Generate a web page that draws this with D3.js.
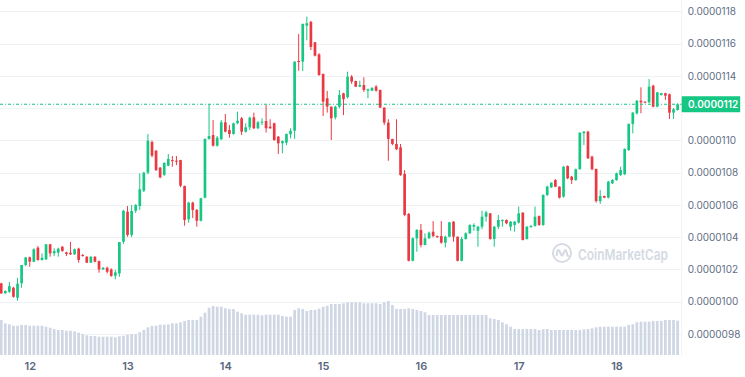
<!DOCTYPE html>
<html>
<head>
<meta charset="utf-8">
<script src="https://cdn.jsdelivr.net/npm/d3@7"></script>
<style>
  html, body { margin: 0; padding: 0; background: #fff; }
  svg { display: block; font-family: Inter, "Noto Sans", sans-serif; }
</style>
</head>
<body>
<div id="chart"></div>
<script>
// hourly candles, prices in units of 1e-7
const UNIT = 1e-7;
const startTime = new Date(2024, 0, 11, 17);

const open = [
  101.14, 100.52, 100.62, 100.87, 100.25, 101.14, 102.28, 102.75, 102.48, 103.35,
  102.59, 102.63, 103.56, 103.00, 103.04, 103.41, 103.06, 103.04, 102.94, 103.29,
  102.90, 102.79, 102.42, 102.79, 102.52, 102.00, 102.11, 102.00, 101.61, 101.76,
  103.72, 105.58, 104.14, 105.64, 105.93, 106.88, 108.00, 109.90, 109.36, 108.31,
  107.86, 108.43, 108.78, 108.74, 108.78, 107.17, 105.11, 106.14, 105.69, 105.02,
  106.45, 110.09, 110.33, 109.67, 110.07, 111.12, 110.64, 110.40, 111.06, 111.37,
  110.54, 110.81, 111.43, 110.75, 111.10, 111.20, 110.85, 111.06, 110.23, 109.82,
  109.86, 110.38, 110.60, 114.92, 114.88, 117.11, 117.35, 116.08, 115.33, 114.11,
  112.61, 112.09, 111.43, 112.09, 112.92, 112.67, 113.95, 113.68, 113.33, 113.43,
  113.08, 113.08, 113.33, 113.12, 112.03, 111.10, 110.09, 109.78, 109.57, 107.92,
  105.44, 102.54, 103.93, 104.45, 103.52, 103.93, 104.34, 104.07, 104.07, 103.66,
  104.03, 104.96, 104.03, 102.54, 103.89, 104.24, 104.65, 104.40, 104.65, 105.27,
  105.48, 103.89, 104.65, 105.00, 105.07, 104.65, 104.76, 104.90, 105.52, 103.89,
  104.62, 104.70, 105.31, 104.76, 106.62, 107.09, 107.54, 107.13, 106.51, 108.41,
  107.75, 107.54, 108.21, 110.44, 110.54, 108.99, 108.23, 106.24, 106.55, 106.45,
  107.34, 107.54, 107.85, 107.90, 109.40, 111.02, 111.68, 112.46, 112.40, 112.36,
  113.39, 112.09, 112.81, 112.92, 112.86, 111.72, 111.88
];
const high = [
  101.18, 100.70, 101.22, 100.93, 101.47, 102.28, 102.77, 102.80, 103.31, 103.45,
  103.00, 103.58, 103.58, 103.31, 103.35, 103.45, 103.10, 103.70, 103.30, 103.35,
  102.95, 102.82, 102.82, 102.82, 102.55, 102.15, 102.17, 102.07, 101.97, 103.70,
  105.69, 105.93, 106.00, 106.05, 107.96, 108.05, 110.40, 110.00, 109.40, 108.35,
  108.65, 109.16, 109.03, 109.03, 108.80, 107.20, 106.20, 106.20, 105.75, 106.45,
  110.12, 112.24, 111.26, 110.27, 111.26, 111.64, 110.95, 111.10, 111.78, 111.45,
  111.06, 111.47, 111.72, 111.20, 111.37, 112.19, 111.31, 111.10, 110.27, 110.00,
  110.42, 110.75, 114.90, 116.60, 117.25, 117.67, 117.40, 116.10, 115.40, 114.15,
  113.06, 112.10, 112.15, 113.12, 112.95, 114.26, 114.05, 113.70, 113.70, 113.91,
  113.20, 113.30, 113.43, 113.15, 112.05, 111.31, 110.10, 111.31, 109.78, 108.16,
  105.50, 104.00, 104.50, 104.82, 104.24, 104.35, 105.00, 104.10, 105.00, 104.10,
  104.95, 105.00, 104.05, 104.03, 104.30, 104.80, 104.86, 104.70, 105.64, 105.64,
  105.50, 104.70, 105.38, 105.10, 105.10, 105.00, 105.00, 105.90, 105.55, 104.70,
  104.75, 105.90, 105.35, 106.65, 107.20, 107.40, 107.60, 107.15, 108.40, 108.45,
  107.80, 108.25, 110.50, 110.58, 110.60, 109.05, 108.25, 106.92, 106.58, 107.50,
  107.60, 108.00, 108.37, 109.50, 111.05, 111.75, 112.50, 113.29, 112.42, 113.80,
  113.45, 113.00, 112.95, 112.95, 112.90, 112.01, 112.30
];
const low = [
  100.48, 100.50, 100.54, 100.25, 100.06, 100.87, 102.20, 102.17, 102.45, 102.54,
  102.55, 102.59, 102.79, 102.83, 102.79, 103.10, 102.83, 102.90, 102.90, 102.42,
  102.80, 102.40, 102.40, 102.45, 101.80, 101.98, 101.76, 101.55, 101.39, 101.55,
  103.59, 104.03, 104.00, 105.50, 105.69, 106.80, 107.90, 108.95, 108.10, 107.65,
  107.80, 108.40, 108.37, 108.47, 107.10, 104.71, 104.90, 105.19, 104.65, 104.98,
  106.41, 110.05, 109.62, 109.61, 110.02, 110.50, 110.17, 110.35, 111.00, 110.33,
  110.48, 110.64, 110.70, 110.70, 110.95, 110.48, 110.72, 109.98, 109.16, 109.20,
  109.71, 110.13, 110.09, 114.32, 114.30, 116.20, 115.60, 115.20, 114.00, 111.51,
  111.72, 110.02, 111.30, 112.00, 111.57, 112.60, 113.50, 113.30, 113.30, 113.00,
  112.61, 113.05, 113.02, 112.00, 110.95, 108.74, 109.70, 109.40, 107.80, 105.30,
  102.50, 102.50, 103.10, 103.37, 103.50, 103.90, 104.00, 103.95, 103.60, 103.37,
  104.00, 103.72, 102.50, 102.50, 103.85, 104.20, 104.40, 103.41, 104.50, 104.96,
  103.85, 103.41, 104.50, 104.65, 104.80, 104.40, 104.34, 104.85, 103.80, 103.85,
  104.60, 104.65, 104.70, 104.70, 106.55, 107.05, 107.10, 106.40, 106.45, 107.60,
  107.30, 107.50, 108.20, 109.71, 108.85, 108.15, 106.14, 106.06, 106.42, 106.40,
  107.30, 107.50, 107.80, 107.85, 109.35, 110.44, 111.60, 111.68, 112.30, 112.30,
  112.05, 112.05, 112.78, 112.50, 111.33, 111.33, 111.85
];
const close = [
  100.52, 100.67, 100.97, 100.31, 101.12, 102.28, 102.75, 102.48, 103.25, 102.59,
  102.73, 103.56, 103.00, 103.14, 103.29, 103.14, 102.96, 102.94, 103.25, 102.59,
  102.83, 102.42, 102.79, 102.48, 102.00, 102.11, 101.86, 101.60, 101.82, 103.70,
  105.64, 104.14, 105.62, 106.00, 106.97, 108.00, 109.98, 109.05, 108.16, 107.71,
  108.60, 108.85, 108.74, 108.70, 107.19, 105.07, 106.14, 105.69, 105.02, 106.41,
  110.09, 110.27, 109.67, 110.17, 111.12, 110.54, 110.40, 111.06, 111.22, 110.54,
  110.81, 111.41, 110.75, 111.12, 111.16, 110.75, 110.75, 110.02, 109.82, 109.96,
  110.40, 110.60, 114.88, 114.88, 117.21, 117.26, 115.79, 115.25, 114.05, 112.40,
  112.09, 111.37, 112.09, 112.81, 112.55, 113.95, 113.64, 113.33, 113.43, 113.12,
  113.17, 113.25, 113.08, 112.03, 111.10, 110.09, 109.78, 109.45, 107.85, 105.38,
  102.54, 103.93, 104.45, 103.52, 103.93, 104.28, 104.07, 104.03, 103.66, 104.03,
  104.92, 104.03, 102.54, 103.89, 104.24, 104.76, 104.76, 104.65, 105.27, 105.54,
  103.89, 104.65, 105.07, 105.07, 104.86, 104.96, 104.96, 105.48, 103.83, 104.65,
  104.70, 105.27, 104.76, 106.62, 107.13, 107.38, 107.13, 106.45, 108.37, 107.65,
  107.54, 108.21, 110.48, 110.54, 108.89, 108.21, 106.24, 106.55, 106.45, 107.44,
  107.54, 107.96, 108.16, 109.47, 111.02, 111.72, 112.46, 112.36, 112.36, 113.33,
  112.09, 112.98, 112.92, 112.77, 111.72, 111.93, 112.24
];
const volume = [
  35.0, 31.7, 30.7, 29.3, 29.3, 30.0, 30.0, 29.3, 29.3, 29.3,
  29.3, 28.3, 27.3, 26.0, 25.0, 25.0, 24.3, 24.3, 23.7, 22.3,
  21.0, 19.7, 19.0, 19.0, 18.3, 18.3, 18.3, 18.3, 17.7, 18.7,
  19.3, 20.3, 21.0, 20.7, 22.7, 25.0, 27.7, 29.0, 29.3, 30.3,
  30.3, 30.7, 31.7, 31.7, 32.7, 34.0, 35.0, 35.0, 35.0, 38.3,
  42.3, 47.3, 49.0, 48.3, 48.3, 46.7, 46.0, 46.0, 43.3, 41.7,
  40.3, 40.3, 40.3, 40.3, 39.7, 40.3, 40.3, 40.3, 40.3, 39.0,
  38.3, 38.3, 45.0, 46.7, 46.0, 44.0, 45.0, 45.0, 46.3, 48.3,
  49.3, 51.0, 51.0, 51.0, 51.7, 52.7, 52.7, 52.7, 52.7, 51.7,
  51.7, 51.7, 51.7, 51.0, 52.7, 54.0, 50.0, 46.0, 46.0, 46.0,
  46.7, 46.0, 45.0, 44.0, 42.7, 40.0, 40.0, 40.0, 40.0, 40.0,
  40.0, 40.0, 40.0, 40.0, 40.0, 40.0, 40.0, 40.0, 40.0, 40.0,
  36.7, 36.0, 35.0, 32.7, 30.7, 28.3, 26.0, 26.0, 26.0, 26.0,
  26.0, 26.0, 25.0, 25.7, 26.0, 25.0, 25.0, 25.0, 25.0, 25.0,
  25.0, 25.0, 25.0, 25.7, 26.0, 26.7, 27.7, 28.3, 28.3, 28.3,
  28.3, 28.3, 28.3, 28.3, 30.0, 30.7, 32.7, 33.3, 33.3, 33.3,
  34.0, 34.0, 34.0, 35.0, 35.0, 35.0, 34.3
];
const priceTicks = [98, 100, 102, 104, 106, 108, 110, 112, 114, 116, 118];
const lastPrice = close[close.length - 1];

const W = 745, H = 377;
const plotW = 681.7, volBottom = 355;
const UP = "#16c784", DOWN = "#ea3943";
const HOUR = 3600e3;

const candles = open.map((o, i) => ({
  t: new Date(+startTime + i * HOUR), o, h: high[i], l: low[i], c: close[i], v: volume[i]
}));

const svg = d3.select("#chart").append("svg").attr("width", W).attr("height", H);

const x = d3.scaleTime()
  .domain([new Date(+startTime - 0.3 * HOUR), new Date(+startTime + 167 * HOUR)])
  .range([0, plotW]);
const y = d3.scaleLinear().domain([96.7, 118.7]).range([volBottom, 0]);
const yv = d3.scaleLinear().domain([0, 55]).range([volBottom, volBottom - 55]);
const bw = 2.7;

svg.append("defs").append("clipPath").attr("id", "plot")
  .append("rect").attr("x", 0).attr("y", 0).attr("width", plotW).attr("height", volBottom);

// grid
svg.append("g").selectAll("line").data(priceTicks).join("line")
  .attr("x1", 0).attr("x2", plotW)
  .attr("y1", (d) => Math.round(y(d)) + 0.5).attr("y2", (d) => Math.round(y(d)) + 0.5)
  .attr("stroke", "#eff2f5").attr("stroke-width", 1);
svg.append("line").attr("x1", plotW).attr("x2", plotW).attr("y1", 0).attr("y2", volBottom + 1)
  .attr("stroke", "#eff2f5");

// watermark
const wm = svg.append("g").attr("transform", "translate(552,243)").attr("fill", "none")
  .attr("stroke", "#d5dae3");
wm.append("circle").attr("cx", 10).attr("cy", 10).attr("r", 9).attr("stroke-width", 2);
wm.append("path").attr("stroke-width", 2).attr("stroke-linejoin", "round")
  .attr("d", "M4.5,13 L5.5,8 Q6.5,6 7.8,8.5 L9.3,12 Q10,13.2 10.8,12 L12.5,8 Q13.8,6 14.5,8.5 L15.3,12 Q16,13.5 17,12.6");
svg.append("text").attr("x", 578).attr("y", 254).attr("dominant-baseline", "central")
  .attr("font-size", 15).attr("font-weight", 600).attr("fill", "#d5dae3")
  .attr("textLength", 90).attr("lengthAdjust", "spacingAndGlyphs").text("CoinMarketCap");

const plot = svg.append("g").attr("clip-path", "url(#plot)");

// volume
plot.append("g").selectAll("rect").data(candles).join("rect")
  .attr("x", (d) => x(d.t) - bw / 2).attr("width", bw)
  .attr("y", (d) => yv(d.v)).attr("height", (d) => volBottom - yv(d.v))
  .attr("fill", "#cfd6e4");

// candles
const gc = plot.append("g");
gc.selectAll("line").data(candles).join("line")
  .attr("x1", (d) => x(d.t)).attr("x2", (d) => x(d.t))
  .attr("y1", (d) => y(d.h)).attr("y2", (d) => y(d.l))
  .attr("stroke", (d) => (d.c >= d.o ? UP : DOWN)).attr("stroke-width", 1);
gc.selectAll("rect").data(candles).join("rect")
  .attr("x", (d) => x(d.t) - bw / 2).attr("width", bw)
  .attr("y", (d) => y(Math.max(d.o, d.c)))
  .attr("height", (d) => Math.max(1, Math.abs(y(d.o) - y(d.c))))
  .attr("fill", (d) => (d.c >= d.o ? UP : DOWN));

// last price line
svg.append("line").attr("x1", 0).attr("x2", plotW)
  .attr("y1", y(lastPrice)).attr("y2", y(lastPrice))
  .attr("stroke", UP).attr("stroke-width", 1).attr("stroke-dasharray", "3 2 1 2");

// y axis (the tick under the price tag is covered by the tag)
const fmt = (d) => (d * UNIT).toFixed(7);
const tagged = fmt(lastPrice);
const gy = svg.append("g").attr("transform", `translate(${plotW},0)`)
  .call(d3.axisRight(y).tickValues(priceTicks.filter((d) => fmt(d) !== tagged))
    .tickFormat(fmt).tickSize(0).tickPadding(6));
gy.select(".domain").remove();
gy.selectAll("text").attr("fill", "#616e85").attr("font-size", 10)
  .attr("font-family", "Inter, 'Noto Sans', sans-serif");

// price tag
const tag = svg.append("g").attr("transform", `translate(${plotW},${y(lastPrice)})`);
tag.append("rect").attr("x", 0).attr("y", -8).attr("width", 58.5).attr("height", 16).attr("fill", UP);
tag.append("text").attr("x", 6.3).attr("y", 0).attr("dominant-baseline", "central")
  .attr("fill", "#fff").attr("font-size", 10).attr("font-weight", 600).text(tagged);

// x axis
const gx = svg.append("g").attr("transform", "translate(0,362)")
  .call(d3.axisBottom(x).ticks(d3.timeDay.every(1)).tickFormat(d3.timeFormat("%-d")).tickSize(0).tickPadding(0));
gx.select(".domain").remove();
gx.selectAll("text").attr("fill", "#58667e").attr("font-size", 11).attr("font-weight", 600)
  .attr("font-family", "Inter, 'Noto Sans', sans-serif");
</script>
</body>
</html>
